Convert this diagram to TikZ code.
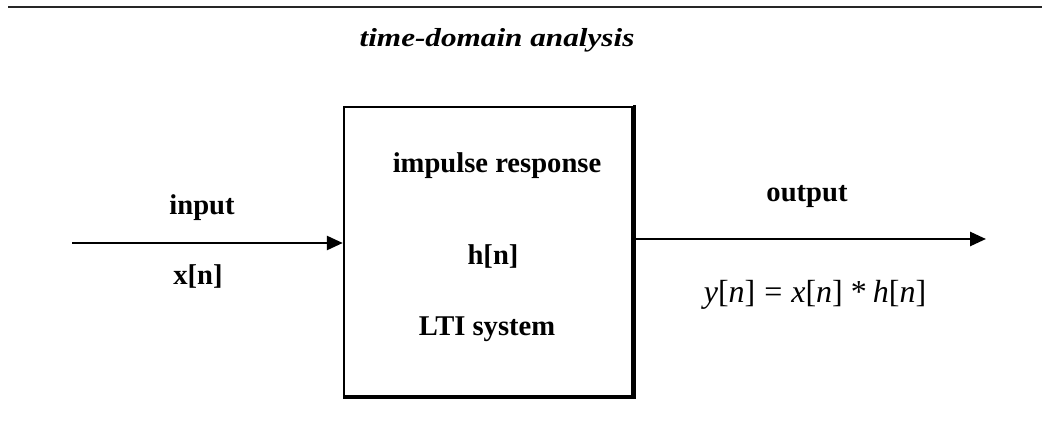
\documentclass[tikz,border=0pt]{standalone}
\usepackage{fontspec}
\setmainfont{Liberation Serif}
\usetikzlibrary{arrows.meta}
\begin{document}
\begin{tikzpicture}[x=0.5pt,y=-0.5pt,
  lbl/.style={font=\fontsize{14.3pt}{16pt}\selectfont\bfseries, inner sep=0pt, anchor=base},
  conn/.style={line width=1.3pt, -{Triangle[length=8pt,width=7pt]}},
  sys/.style={draw, line width=1.2pt, minimum width=144pt, minimum height=144.5pt, inner sep=0pt},
  rule/.style={line width=1.1pt, black!85}]
\useasboundingbox (0,0) rectangle (1042,421);
\coordinate (rl) at (8,7);
\coordinate (rr) at (1042,7);
\draw[rule] (rl) -- (rr);
\node[inner sep=0pt, anchor=base] (title) at (497,47)
  {\scalebox{1.2}[1]{\fontsize{13pt}{15pt}\selectfont\bfseries\itshape time-domain analysis}};
\node[sys] (box) at (488,251.5) {};
\draw[line width=1.1pt] ([xshift=0.6pt,yshift=0.3pt]box.north east) -- ([xshift=0.6pt,yshift=-0.6pt]box.south east) -- ([xshift=0.3pt,yshift=-0.6pt]box.south west);
\node[lbl] (imp) at (497,173) {impulse response};
\node[lbl] (h) at (493,265) {h[n]};
\node[lbl] (lti) at (487,336) {LTI system};
\node[lbl] (inp) at (202,215) {input};
\node[lbl] (x) at (198,285) {x[n]};
\node[lbl] (outp) at (807,202) {output};
\node[inner sep=0pt, anchor=base] (eq) at (815,303)
  {\fontsize{16pt}{18pt}\selectfont\textit{y}[\textit{n}]\hspace{4.5pt}=\hspace{4.5pt}\textit{x}[\textit{n}]\hspace{4pt}*\hspace{3pt}\textit{h}[\textit{n}]};
\coordinate (in) at (72,243);
\coordinate (out) at (986,239);
\draw[conn] (in) -- (in -| box.west);
\draw[conn] (out -| box.east) -- (out);
\end{tikzpicture}
\end{document}
